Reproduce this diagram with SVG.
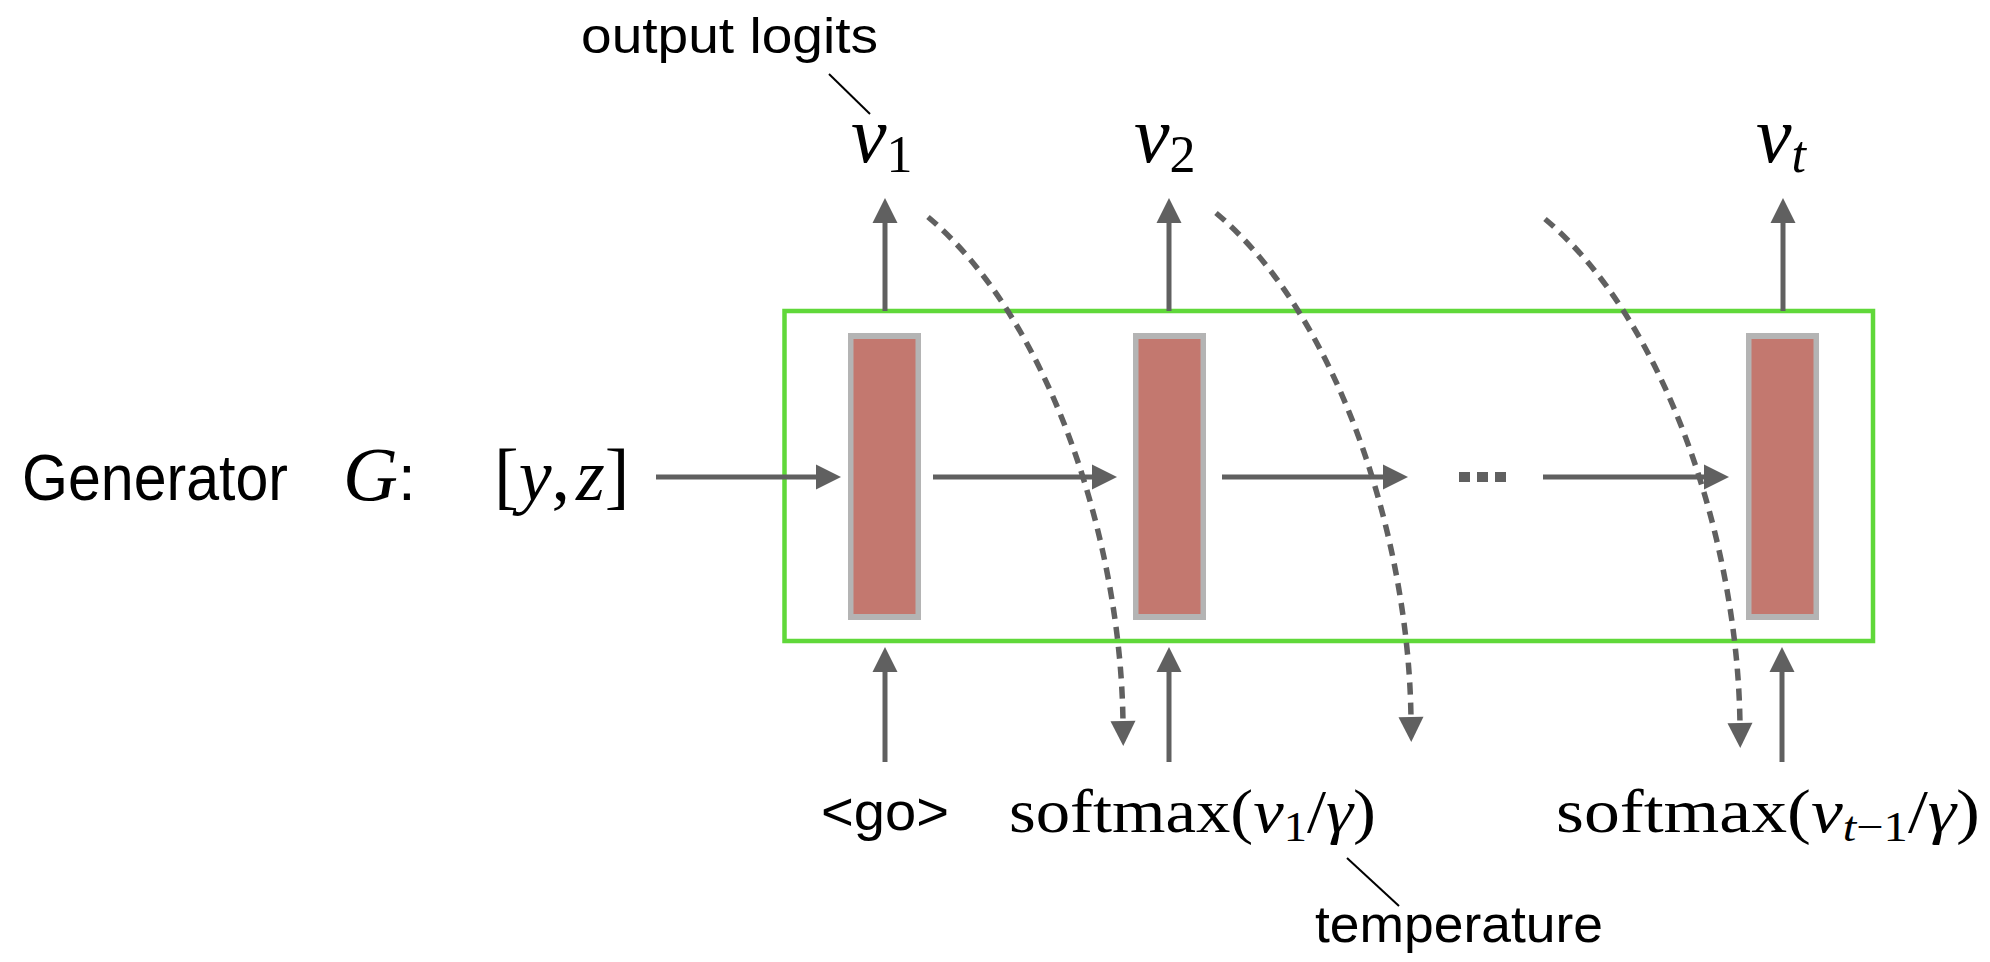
<svg xmlns="http://www.w3.org/2000/svg" width="1990" height="962" viewBox="0 0 1990 962">
<style>
.sans{font-family:"Liberation Sans",Arial,sans-serif;fill:#000}
.ser{font-family:"Liberation Serif","Times New Roman",serif;fill:#000}
.it{font-style:italic}
.arr{stroke:#606060;stroke-width:5;fill:none}
.dash{stroke:#606060;stroke-width:5.5;fill:none;stroke-dasharray:12 8}
.lead{stroke:#000;stroke-width:2;fill:none}
.cellO{fill:#b4b4b4}
.cellI{fill:#c3786f}
</style>
<defs>
<marker id="ah" markerUnits="userSpaceOnUse" markerWidth="26" markerHeight="26" refX="2" refY="12.5" orient="auto" overflow="visible">
<path d="M0,0 L25,12.5 L0,25 Z" fill="#606060"/>
</marker>
</defs>
<rect width="1990" height="962" fill="#fff"/>

<g id="frame">
<rect x="784.5" y="311" width="1088.5" height="330" fill="none" stroke="#60d83a" stroke-width="4.5"/>
</g>

<g id="cell1"><rect class="cellO" x="848" y="333" width="73" height="287"/><rect class="cellI" x="853.5" y="339" width="62" height="275"/></g>
<g id="cell2"><rect class="cellO" x="1133" y="333" width="73" height="287"/><rect class="cellI" x="1138.5" y="339" width="62" height="275"/></g>
<g id="cell3"><rect class="cellO" x="1746" y="333" width="73" height="287"/><rect class="cellI" x="1751.5" y="339" width="62" height="275"/></g>

<g id="connectors">
<line class="arr" x1="885" y1="311" x2="885" y2="221" marker-end="url(#ah)"/>
<line class="arr" x1="1169" y1="311" x2="1169" y2="221" marker-end="url(#ah)"/>
<line class="arr" x1="1783" y1="311" x2="1783" y2="221" marker-end="url(#ah)"/>
<line class="arr" x1="885" y1="762" x2="885" y2="670" marker-end="url(#ah)"/>
<line class="arr" x1="1169" y1="762" x2="1169" y2="670" marker-end="url(#ah)"/>
<line class="arr" x1="1782" y1="762" x2="1782" y2="670" marker-end="url(#ah)"/>
<line class="arr" x1="656" y1="477" x2="818" y2="477" marker-end="url(#ah)"/>
<line class="arr" x1="933" y1="477" x2="1094" y2="477" marker-end="url(#ah)"/>
<line class="arr" x1="1222" y1="477" x2="1385" y2="477" marker-end="url(#ah)"/>
<line class="arr" x1="1543" y1="477" x2="1706" y2="477" marker-end="url(#ah)"/>
<line x1="1459" y1="477" x2="1506" y2="477" stroke="#606060" stroke-width="10" stroke-dasharray="11 7"/>
<path class="dash" d="M928,217 C1048,318 1121,538 1123,723" marker-end="url(#ah)"/>
<path class="dash" d="M1216,213 C1336,314 1409,534 1411,719" marker-end="url(#ah)"/>
<path class="dash" d="M1545,219 C1665,320 1738,540 1740,725" marker-end="url(#ah)"/>
<line class="lead" x1="829" y1="74" x2="870" y2="114"/>
<line class="lead" x1="1347" y1="858" x2="1399" y2="906"/>
</g>

<g id="labels">
<text class="sans" x="581" y="53" font-size="50" textLength="297" lengthAdjust="spacingAndGlyphs">output logits</text>
<text class="ser" x="851" y="162" font-size="80"><tspan class="it">v</tspan><tspan font-size="52" dy="10">1</tspan></text>
<text class="ser" x="1134" y="162" font-size="80"><tspan class="it">v</tspan><tspan font-size="52" dy="10">2</tspan></text>
<text class="ser" x="1756" y="162" font-size="80"><tspan class="it">v</tspan><tspan class="it" font-size="52" dy="10">t</tspan></text>
<text class="sans" x="22" y="500" font-size="64" textLength="266" lengthAdjust="spacingAndGlyphs">Generator</text>
<text class="ser" x="343" y="500" font-size="76"><tspan class="it">G</tspan><tspan class="sans" font-size="64">:</tspan></text>
<text class="ser" x="494" y="500" font-size="74">[<tspan class="it">y</tspan>,<tspan class="it" dx="6">z</tspan>]</text>
<text class="sans" x="821" y="830" font-size="54" textLength="128" lengthAdjust="spacingAndGlyphs">&lt;go&gt;</text>
<text class="ser" x="1009" y="832" font-size="62" textLength="367" lengthAdjust="spacingAndGlyphs">softmax(<tspan class="it">v</tspan><tspan font-size="42" dy="9">1</tspan><tspan dy="-9">/</tspan><tspan class="it">γ</tspan>)</text>
<text class="ser" x="1556" y="832" font-size="62" textLength="424" lengthAdjust="spacingAndGlyphs">softmax(<tspan class="it">v</tspan><tspan class="it" font-size="42" dy="9">t</tspan><tspan font-size="42">−1</tspan><tspan dy="-9">/</tspan><tspan class="it">γ</tspan>)</text>
<text class="sans" x="1315" y="942" font-size="52" textLength="288" lengthAdjust="spacingAndGlyphs">temperature</text>
</g>
</svg>
